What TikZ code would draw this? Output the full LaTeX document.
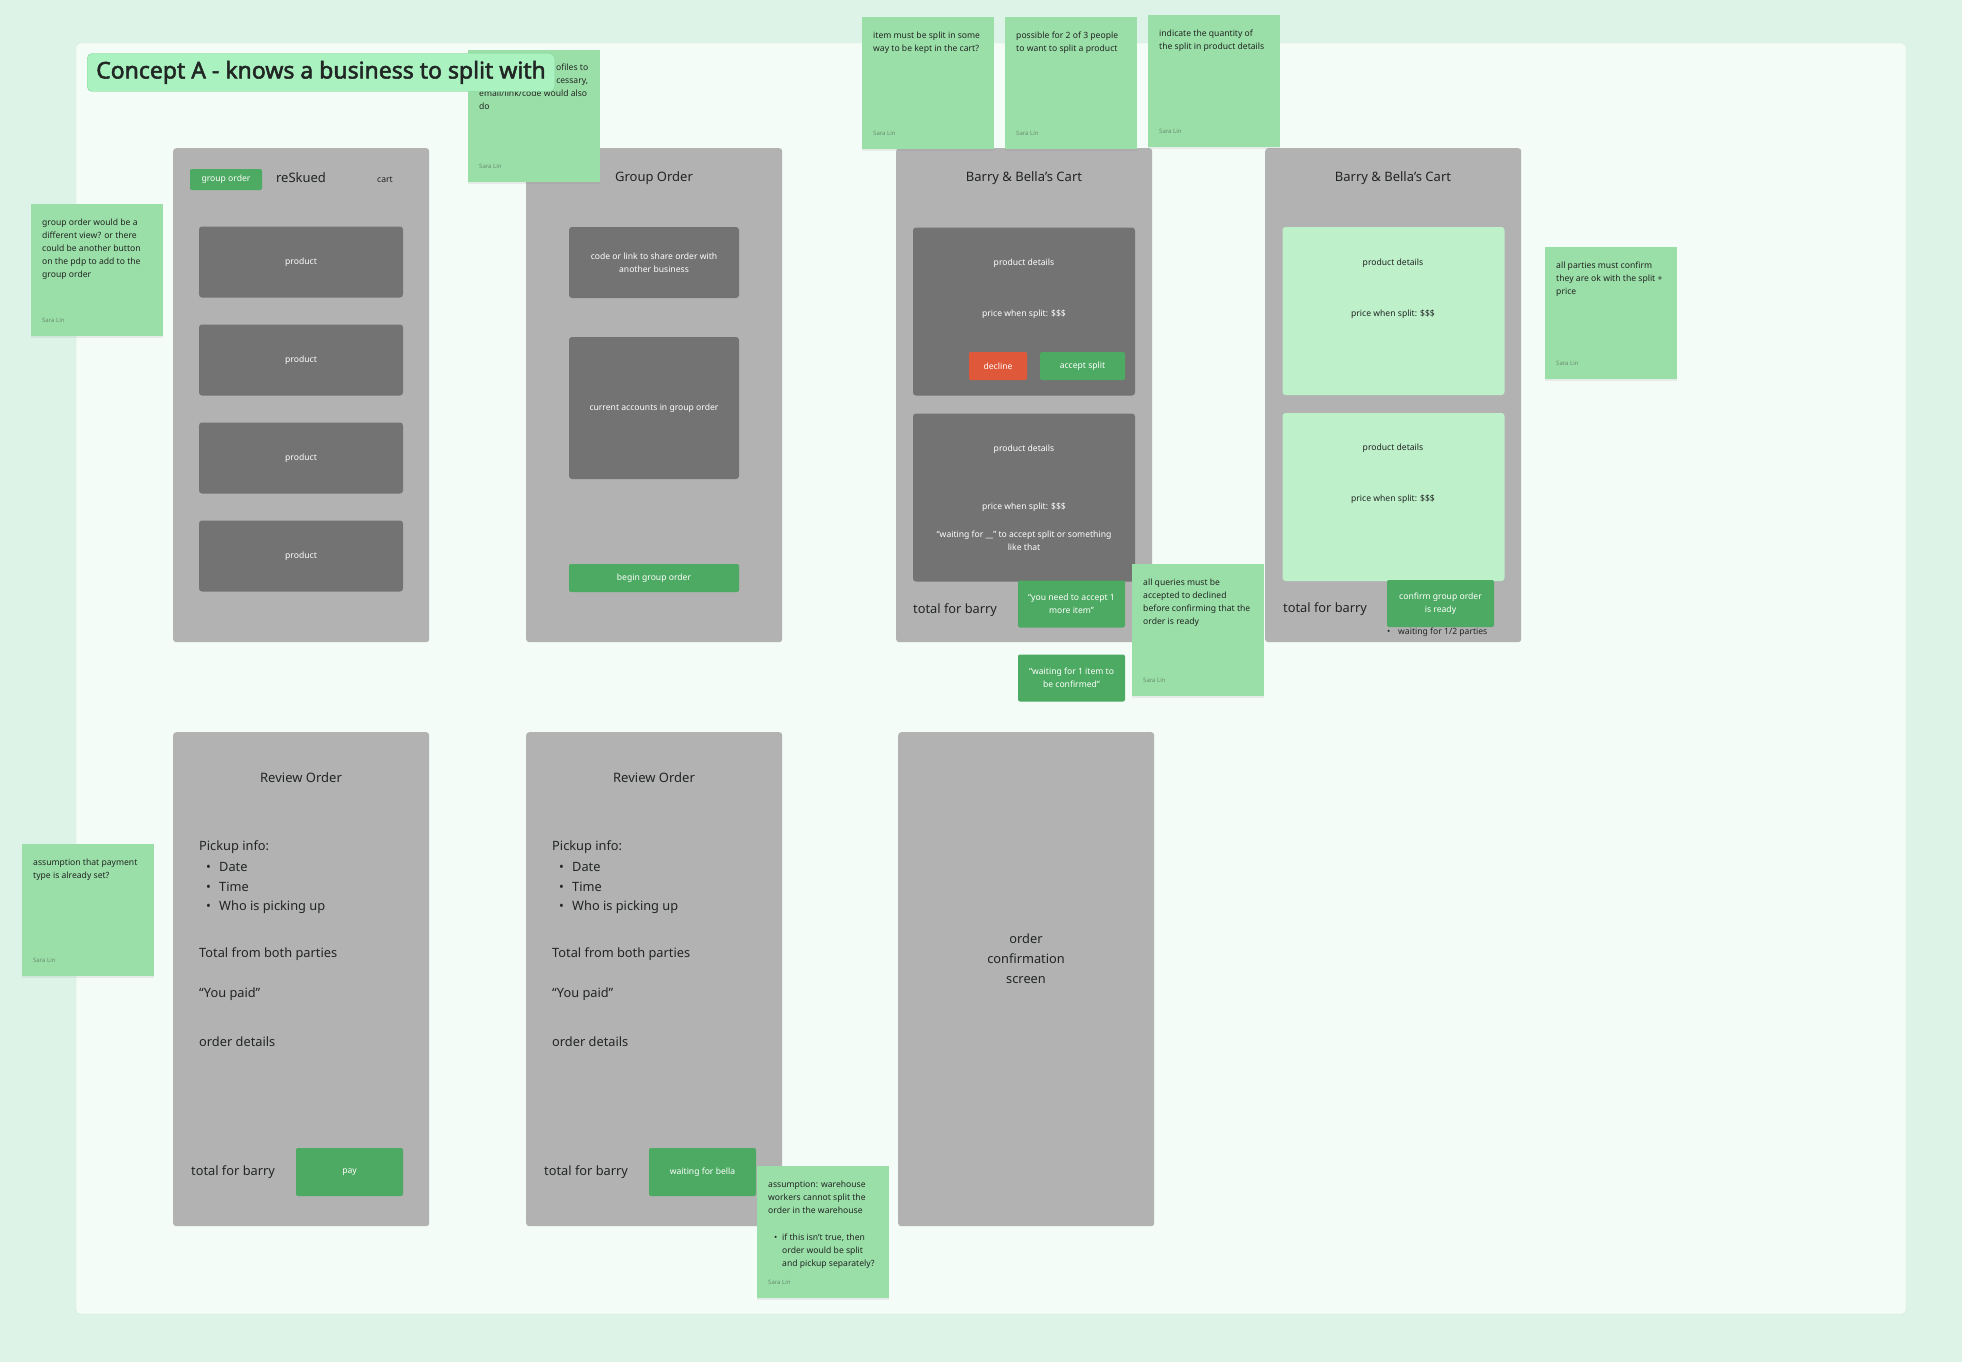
\documentclass[tikz,border=0pt]{standalone}
\usepackage{fontspec}
\setmainfont{Noto Sans}
\newfontfamily\titlefont{Noto Sans}[FakeBold=2.2]
\usepackage{tikz}
\usetikzlibrary{positioning,shadows}
\definecolor{bgouter}{RGB}{222,243,231}
\definecolor{bgpanel}{RGB}{243,252,246}
\definecolor{panelline}{RGB}{208,236,217}
\definecolor{screengrey}{RGB}{178,178,178}
\definecolor{boxgrey}{RGB}{115,115,115}
\definecolor{btngreen}{RGB}{77,170,98}
\definecolor{btnred}{RGB}{224,88,58}
\definecolor{notegreen}{RGB}{155,223,168}
\definecolor{itemgreen}{RGB}{190,240,202}
\definecolor{titlegreen}{RGB}{170,242,192}
\definecolor{titleline}{RGB}{130,210,150}
\definecolor{inkdark}{RGB}{33,37,35}
\definecolor{inkby}{RGB}{105,140,112}

\tikzset{
  screen/.style={anchor=north west, fill=screengrey, rounded corners=3pt,
    minimum width=256pt, minimum height=494pt, inner sep=0pt},
  itembox/.style={fill=boxgrey, rounded corners=3pt, inner sep=0pt, text=white,
    font=\fontsize{8.6}{13}\selectfont, align=center},
  scrtitle/.style={text=inkdark, font=\fontsize{13}{16}\selectfont, inner sep=0pt},
  bodytxt/.style={anchor=west, text=inkdark, font=\fontsize{12.8}{20}\selectfont, inner sep=0pt},
  boxtxt/.style={text=white, font=\fontsize{8.6}{13}\selectfont, align=center, inner sep=0pt},
  inktxt/.style={text=inkdark, font=\fontsize{8.6}{13}\selectfont, align=center, inner sep=0pt},
  btn/.style={fill=btngreen, rounded corners=2pt, text=white,
    font=\fontsize{8.6}{13}\selectfont, align=center, inner sep=0pt},
  note/.style={anchor=north west, fill=notegreen, minimum width=132pt, minimum height=132pt,
    inner sep=0pt, drop shadow={shadow xshift=0pt, shadow yshift=-2pt, opacity=0.12}},
  notetext/.style={anchor=north west, align=left, text=inkdark,
    font=\fontsize{8.6}{13}\selectfont, inner sep=0pt},
  noteby/.style={anchor=west, text=inkby, font=\fontsize{6}{7}\selectfont, inner sep=0pt},
  titlebox/.style={anchor=west, fill=titlegreen, draw=titleline, rounded corners=5pt,
    minimum height=38pt, inner xsep=9pt, text=inkdark, font=\titlefont\fontsize{23}{27}\selectfont},
}

% a sticky comment: name, x, y, text
\newcommand{\stickynote}[4]{%
  \node[note] (#1) at (#2,#3) {};
  \node[notetext] (#1-txt) at ([shift={(11,15)}]#1.north west) {#4};
  \node[noteby] (#1-by) at ([shift={(11,-16)}]#1.south west) {Sara Lin};
}

\begin{document}
\begin{tikzpicture}[x=1pt, y=-1pt]
  % board
  \useasboundingbox (0,0) rectangle (1962,1362);
  \fill[bgouter] (0,0) rectangle (1962,1362);
  \filldraw[fill=bgpanel, draw=panelline, rounded corners=4pt] (76,43) rectangle (1906,1314);

  % screen 1: shop
  \node[screen] (shop) at (173,148) {};
  \node[btn, minimum width=72, minimum height=21] (shopgroup) at (226,179.5) {group order};
  \node[scrtitle] (shoptitle) at (301,178) {reSkued};
  \node[inktxt] (shopcart) at (385,180) {cart};
  \foreach \i in {1,...,4}
    \node[itembox, minimum width=204, minimum height=71] (prod\i) at (301,164+98*\i) {product};

  % screen 2: group order
  \node[screen] (group) at (526,148) {};
  \node[scrtitle] (grouptitle) at (654,178) {Group Order};
  \node[itembox, minimum width=170, minimum height=71] (groupshare) at (654,262.5)
    {code or link to share order with\\another business};
  \node[itembox, minimum width=170, minimum height=142] (groupaccts) at (654,408)
    {current accounts in group order};
  \node[btn, minimum width=170, minimum height=28] (groupbegin) at (654,578) {begin group order};

  % screen 3: shared cart, waiting
  \node[screen] (cart) at (896,148) {};
  \node[scrtitle] (carttitle) at (1024,178) {Barry \& Bella’s Cart};
  \node[itembox, minimum width=222, minimum height=168] (cartitem1) at (1024,311.5) {};
  \node[boxtxt] (cartdet1) at (1024,263) {product details};
  \node[boxtxt] (cartprice1) at (1024,314) {price when split: \$\$\$};
  \node[btn, fill=btnred, minimum width=58, minimum height=28] (cartdecline) at (998,366) {decline};
  \node[btn, minimum width=85, minimum height=28] (cartaccept) at (1082.5,366) {accept split};
  \node[itembox, minimum width=222, minimum height=168] (cartitem2) at (1024,497.5) {};
  \node[boxtxt] (cartdet2) at (1024,449) {product details};
  \node[boxtxt] (cartprice2) at (1024,507) {price when split: \$\$\$};
  \node[boxtxt] (cartwait) at (1024,540.5) {“waiting for \_\_” to accept split or something\\like that};
  \node[bodytxt] (carttotal) at (913,610) {total for barry};
  \node[btn, minimum width=107, minimum height=47] (cartneed) at (1071.5,604)
    {“you need to accept 1\\more item”};
  \node[btn, minimum width=107, minimum height=47] (cartpending) at (1071.5,678)
    {“waiting for 1 item to\\be confirmed”};

  % screen 4: shared cart, all accepted
  \node[screen] (ready) at (1265,148) {};
  \node[scrtitle] (readytitle) at (1393,178) {Barry \& Bella’s Cart};
  \node[itembox, fill=itemgreen, minimum width=222, minimum height=168] (readyitem1) at (1393.5,311) {};
  \node[inktxt] (readydet1) at (1393,263) {product details};
  \node[inktxt] (readyprice1) at (1393,314) {price when split: \$\$\$};
  \node[itembox, fill=itemgreen, minimum width=222, minimum height=168] (readyitem2) at (1393.5,497) {};
  \node[inktxt] (readydet2) at (1393,448) {product details};
  \node[inktxt] (readyprice2) at (1393,499) {price when split: \$\$\$};
  \node[bodytxt] (readytotal) at (1283,609) {total for barry};
  \node[btn, minimum width=107, minimum height=47] (readyconfirm) at (1440.5,603.5)
    {confirm group order\\is ready};
  \node[inktxt, anchor=west] (readyparties) at (1387,632) {\makebox[11pt][l]{•}waiting for 1/2 parties};

  % screens 5 and 6: review order
  \foreach \sx/\act [count=\k] in {173/pay, 526/waiting for bella} {
    \node[screen] (review\k) at (\sx,732) {};
    \node[scrtitle] (review\k-title) at (\sx+128,778) {Review Order};
    \node[bodytxt] (review\k-pickup) at (\sx+26,847) {Pickup info:};
    \foreach \entry [count=\j] in {Date, Time, Who is picking up}
      \node[bodytxt] (review\k-pick\j) at (\sx+33,847+20*\j) {\makebox[13pt][l]{•}\entry};
    \node[bodytxt] (review\k-both) at (\sx+26,954) {Total from both parties};
    \node[bodytxt] (review\k-paid) at (\sx+26,994) {“You paid”};
    \node[bodytxt] (review\k-details) at (\sx+26,1042) {order details};
    \node[bodytxt] (review\k-total) at (\sx+18,1172) {total for barry};
    \node[btn, minimum width=107, minimum height=48] (review\k-btn) at (\sx+176.5,1172) {\act};
  }

  % screen 7: confirmation
  \node[screen] (done) at (898,732) {};
  \node[scrtitle, align=center, font=\fontsize{12.8}{20}\selectfont] (donetxt) at (1026,959)
    {order\\confirmation\\screen};

  % sticky comments
  \node[note] (nprofile) at (468,50) {};
  \node[notetext, anchor=north east, align=right] (nprofile-txt) at ([shift={(-12,14)}]nprofile.north east)
    {ofiles to\\cessary,};
  \node[notetext] (nprofile-txt2) at ([shift={(11,40)}]nprofile.north west) {email/link/code would also\\do};
  \node[noteby] (nprofile-by) at ([shift={(11,-16)}]nprofile.south west) {Sara Lin};

  \stickynote{nsplit}{862}{17}{item must be split in some\\way to be kept in the cart?}
  \stickynote{npeople}{1005}{17}{possible for 2 of 3 people\\to want to split a product}
  \stickynote{nqty}{1148}{15}{indicate the quantity of\\the split in product details}
  \stickynote{nview}{31}{204}{group order would be a\\different view? or there\\could be another button\\on the pdp to add to the\\group order}
  \stickynote{nconfirm}{1545}{247}{all parties must confirm\\they are ok with the split +\\price}
  \stickynote{nqueries}{1132}{564}{all queries must be\\accepted to declined\\before confirming that the\\order is ready}
  \stickynote{npayment}{22}{844}{assumption that payment\\type is already set?}
  \stickynote{nwarehouse}{757}{1166}{assumption: warehouse\\workers cannot split the\\order in the warehouse}
  \node[notetext] (nwarehouse-list) at ([shift={(17,68)}]nwarehouse.north west)
    {\makebox[8pt][l]{•}if this isn’t true, then\\\hspace*{8pt}order would be split\\\hspace*{8pt}and pickup separately?};

  % title
  \node[titlebox] (title) at (87,72.5) {Concept A - knows a business to split with};
\end{tikzpicture}
\end{document}
